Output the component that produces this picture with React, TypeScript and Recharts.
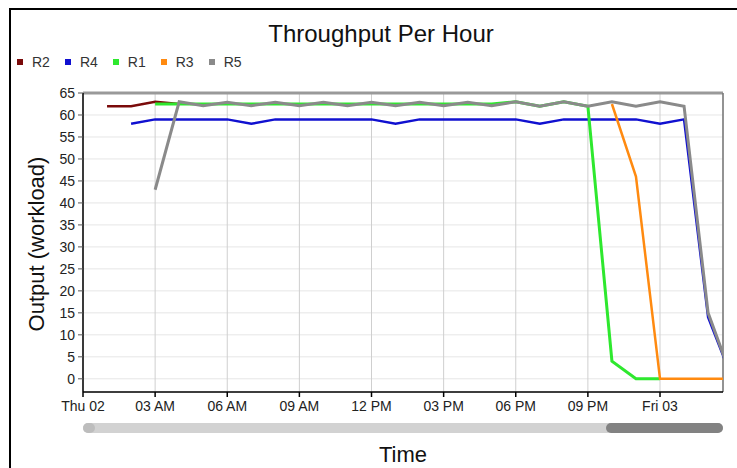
import { LineChart, Line, XAxis, YAxis, CartesianGrid, ReferenceLine } from 'recharts'

// hours since Thu 02 00:00
const X_TICKS = [0, 3, 6, 9, 12, 15, 18, 21, 24]
const X_LABELS = ['Thu 02', '03 AM', '06 AM', '09 AM', '12 PM', '03 PM', '06 PM', '09 PM', 'Fri 03']
const Y_TICKS = [0, 5, 10, 15, 20, 25, 30, 35, 40, 45, 50, 55, 60, 65]
const X_END = 26.62

// each series: first hour + hourly values
const R2_START = 1
const R2 = [62, 62, 63, 62.5]
const R4_START = 2
const R4 = [58, 59, 59, 59, 59, 58, 59, 59, 59, 59, 59, 58, 59, 59, 59, 59, 59, 58, 59, 59, 59, 59, 58, 59, 14, 0]
const R1_START = 3
const R1 = [62.5, 62.5, 62.5, 62.5, 62.5, 62.5, 62.5, 62.5, 62.5, 62.5, 62.5, 62.5, 62.5, 62.5, 62.5, 63, 62, 63, 62, 4, 0, 0]
const R3_START = 22
const R3 = [62.5, 46, 0, 0, 0, 0]
const R5_START = 3
const R5 = [43, 63, 62.1, 62.9, 62.1, 62.9, 62.1, 62.9, 62.1, 62.9, 62.1, 62.9, 62.1, 62.9, 62.1, 63, 62, 63, 62, 63, 62, 63, 62, 15, 0]

const SERIES = [
  { key: 'R2', color: '#7a0a0a', start: R2_START, values: R2, width: 2.5 },
  { key: 'R4', color: '#1010d0', start: R4_START, values: R4, width: 2.5 },
  { key: 'R1', color: '#2ee82e', start: R1_START, values: R1, width: 3 },
  { key: 'R3', color: '#ff8a10', start: R3_START, values: R3, width: 2.5 },
  { key: 'R5', color: '#8a8a8a', start: R5_START, values: R5, width: 3 },
]

const chartData = Array.from({ length: 28 }, (_, h) => {
  const row: Record<string, number | undefined> = { h }
  SERIES.forEach(s => {
    const i = h - s.start
    row[s.key] = i >= 0 && i < s.values.length ? s.values[i] : undefined
  })
  return row
})

const FONT = '"Liberation Sans", Arial, Helvetica, sans-serif'

export default function App() {
  return (
    <div style={{ position: 'absolute', left: 0, top: 0, width: 737, height: 468, overflow: 'hidden', background: '#fff', fontFamily: FONT }}>
      {/* outer frame */}
      <div style={{ position: 'absolute', left: 9, top: 8, width: 760, height: 500, border: '2px solid #000', boxSizing: 'border-box' }} />

      <div style={{ position: 'absolute', left: 0, width: 762, top: 20, textAlign: 'center', fontSize: 24, color: '#111' }}>
        Throughput Per Hour
      </div>

      {/* legend */}
      <div style={{ position: 'absolute', left: 17, top: 54, display: 'flex', fontSize: 14, color: '#333' }}>
        {SERIES.map(s => (
          <span key={s.key} style={{ display: 'flex', alignItems: 'center', marginRight: 15 }}>
            <span style={{ display: 'inline-block', width: 6, height: 6, background: s.color, marginRight: 9 }} />
            {s.key}
          </span>
        ))}
      </div>

      <div style={{ position: 'absolute', left: 37, top: 244, transform: 'translate(-50%, -50%) rotate(-90deg)', fontSize: 22, color: '#111', whiteSpace: 'nowrap' }}>
        Output (workload)
      </div>

      <LineChart
        width={737}
        height={468}
        data={chartData}
        margin={{ top: 93, right: 14, bottom: 46, left: 33 }}
        style={{ position: 'absolute', left: 0, top: 0 }}
      >
        <CartesianGrid vertical={false} stroke="#e6e6e6" strokeWidth={1} />
        <CartesianGrid horizontal={false} stroke="#cfcfcf" strokeWidth={1} />
        <XAxis
          dataKey="h"
          type="number"
          domain={[0, X_END]}
          allowDataOverflow
          ticks={X_TICKS}
          tickFormatter={(v: number) => X_LABELS[X_TICKS.indexOf(v)] ?? ''}
          interval={0}
          height={30}
          tick={{ fontSize: 14, fill: '#222', fontFamily: FONT }}
          axisLine={{ stroke: '#000', strokeWidth: 1.5 }}
          tickLine={{ stroke: '#000', strokeWidth: 1.5 }}
          tickSize={5}
          tickMargin={4}
        />
        <YAxis
          type="number"
          domain={[-3, 65]}
          allowDataOverflow
          ticks={Y_TICKS}
          interval={0}
          width={50}
          tick={{ fontSize: 14, fill: '#222', fontFamily: FONT }}
          axisLine={{ stroke: '#000', strokeWidth: 1.5 }}
          tickLine={{ stroke: '#555' }}
          tickSize={5}
          tickMargin={3}
        />
        <ReferenceLine y={65} stroke="#999" strokeWidth={3} />
        <ReferenceLine x={X_END} stroke="#777" strokeWidth={1.5} />
        {SERIES.map(s => (
          <Line
            key={s.key}
            dataKey={s.key}
            type="linear"
            stroke={s.color}
            strokeWidth={s.width}
            dot={false}
            activeDot={false}
            isAnimationActive={false}
          />
        ))}
      </LineChart>

      {/* navigator scrollbar */}
      <div style={{ position: 'absolute', left: 83, top: 423, width: 640, height: 10, borderRadius: 5, background: '#d2d2d2' }} />
      <div style={{ position: 'absolute', left: 83, top: 423, width: 12, height: 10, borderRadius: 5, background: '#bdbdbd' }} />
      <div style={{ position: 'absolute', left: 606, top: 423, width: 117, height: 10, borderRadius: 5, background: '#828282' }} />

      <div style={{ position: 'absolute', left: 403, top: 455, transform: 'translate(-50%, -50%)', fontSize: 22, color: '#111' }}>
        Time
      </div>
    </div>
  )
}
